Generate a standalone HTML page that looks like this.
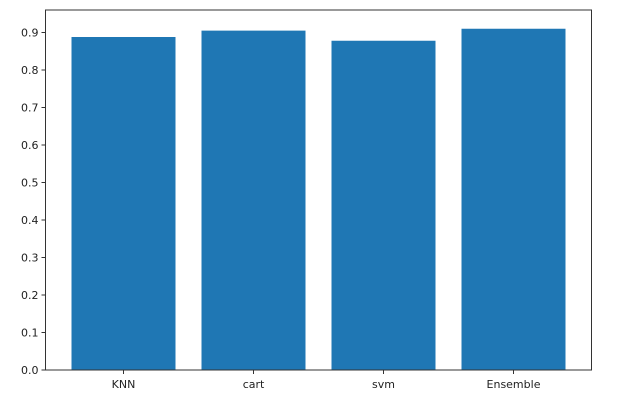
<!DOCTYPE html>
<html><head><meta charset="utf-8"><style>
body{margin:0;background:#fff;}
svg{display:block;font-family:"DejaVu Sans","Liberation Sans",sans-serif;}
</style></head><body>
<svg id="chart" width="621" height="411" xmlns="http://www.w3.org/2000/svg"></svg>
<script>
const categories = ["KNN", "cart", "svm", "Ensemble"];
const values = [0.888, 0.905, 0.878, 0.91];
const yTicks = [0.0, 0.1, 0.2, 0.3, 0.4, 0.5, 0.6, 0.7, 0.8, 0.9];

const L = 45.5, R = 591.5, T = 10, B = 370;
const yMax = 0.96;
const xMin = -0.6, xMax = 3.6;
const sx = v => L + (v - xMin) / (xMax - xMin) * (R - L);
const sy = v => B - v / yMax * (B - T);
const ns = "http://www.w3.org/2000/svg";
const svg = document.getElementById('chart');
function mk(tag, attrs, parent) {
  const e = document.createElementNS(ns, tag);
  for (const k in attrs) e.setAttribute(k, attrs[k]);
  (parent || svg).appendChild(e);
  return e;
}
const bw = 0.8 * (sx(1) - sx(0));
categories.forEach((c, i) => {
  const r = mk('rect', {x: sx(i) - bw / 2, y: sy(values[i]), width: bw, height: sy(0) - sy(values[i]), fill: '#1f77b4'});
  
  
  mk('line', {x1: sx(i), x2: sx(i), y1: B, y2: B + 4, stroke: '#333', 'stroke-width': 1});
  const t = mk('text', {x: sx(i), y: B + 18, 'text-anchor': 'middle', 'font-size': 11, fill: '#222'});
  t.textContent = c;
  
  
});
yTicks.forEach(v => {
  mk('line', {x1: L - 4, x2: L, y1: sy(v), y2: sy(v), stroke: '#333', 'stroke-width': 1});
  const t = mk('text', {x: L - 7, y: sy(v) + 4, 'text-anchor': 'end', 'font-size': 11, fill: '#222'});
  t.textContent = v.toFixed(1);
  
  
});
const frame = mk('rect', {x: L, y: T, width: R - L, height: B - T, fill: 'none', stroke: '#333', 'stroke-width': 1});


</script>
</body></html>
